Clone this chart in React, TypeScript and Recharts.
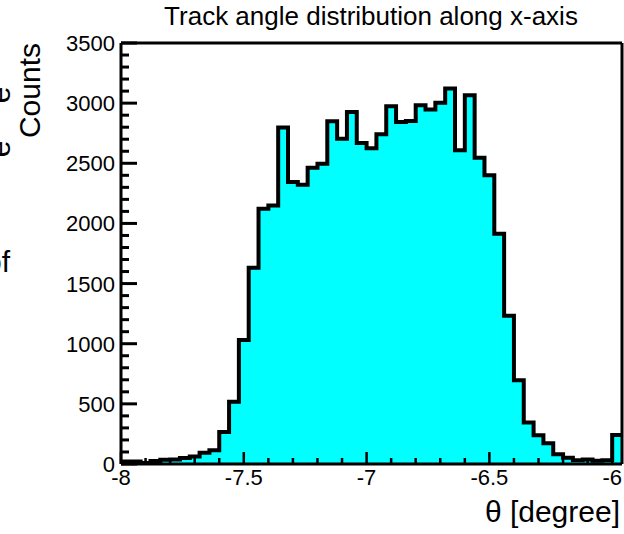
import { AreaChart, Area, XAxis, YAxis } from "recharts";

// histogram binning (degrees)
const binStart = -8;
const binWidth = 0.04;
const counts = [
  20, 20, 8, 25, 35, 38, 50, 62, 94, 114,
  265, 517, 1030, 1631, 2122, 2150, 2797, 2344, 2322, 2463,
  2497, 2850, 2705, 2927, 2669, 2626, 2741, 2975, 2844, 2852,
  2983, 2947, 3003, 3122, 2608, 3066, 2547, 2400, 1914, 1233,
  697, 344, 239, 172, 81, 53, 31, 37, 28, 31,
  242,
];

const xMajorTicks = [-8, -7.5, -7, -6.5, -6];
const yMajorTicks = [0, 500, 1000, 1500, 2000, 2500, 3000, 3500];

const title = "Track angle distribution along x-axis";
const xTitle = "θ [degree]";
const yTitle = "Counts";

// bin edges -> step points (last edge repeats the last count)
const histData = counts.map((c, i) => ({ x: binStart + i * binWidth, count: c }));
histData.push({ x: binStart + counts.length * binWidth, count: counts[counts.length - 1] });
const xMax = binStart + counts.length * binWidth;

const xTicks: number[] = [];
for (let i = 0; i <= 20; i++) xTicks.push(Math.round((-8 + i * 0.1) * 10) / 10);
const yTicks: number[] = [];
for (let i = 0; i <= 35; i++) yTicks.push(i * 100);

const FONT = "'Liberation Sans', Arial, sans-serif";

const isMajor = (list: number[], v: number) => list.some((m) => Math.abs(m - v) < 1e-6);

const XTick = (props: any) => {
  const { x, y, payload } = props;
  const major = isMajor(xMajorTicks, payload.value);
  return (
    <g>
      <line x1={x} x2={x} y1={y} y2={y - (major ? 12 : 6)} stroke="#000" strokeWidth={2.5} />
      {major && (
        <text x={x} y={y + 21} textAnchor="middle" fontSize={22} fontFamily={FONT} fill="#000">
          {payload.value}
        </text>
      )}
    </g>
  );
};

const YTick = (props: any) => {
  const { x, y, payload } = props;
  const major = isMajor(yMajorTicks, payload.value);
  return (
    <g>
      <line x1={x} x2={x + (major ? 16 : 8)} y1={y} y2={y} stroke="#000" strokeWidth={3} />
      {major && (
        <text x={x - 6} y={y + 8} textAnchor="end" fontSize={22} fontFamily={FONT} fill="#000">
          {payload.value}
        </text>
      )}
    </g>
  );
};

export default function App() {
  return (
    <div
      style={{
        position: "absolute",
        left: 0,
        top: 0,
        width: 624,
        height: 534,
        overflow: "hidden",
        background: "#fff",
      }}
    >
      <AreaChart
        width={624}
        height={534}
        data={histData}
        margin={{ top: 42, right: 1, left: 120, bottom: 69 }}
      >
        <XAxis
          dataKey="x"
          type="number"
          domain={[binStart, xMax]}
          ticks={xTicks}
          interval={0}
          height={1}
          tickSize={0}
          tickMargin={0}
          tickLine={false}
          tick={<XTick />}
          axisLine={{ stroke: "#000", strokeWidth: 3 }}
          allowDataOverflow
        />
        <XAxis
          xAxisId="top"
          orientation="top"
          type="number"
          domain={[binStart, xMax]}
          height={1}
          tick={false}
          tickLine={false}
          axisLine={{ stroke: "#000", strokeWidth: 3 }}
        />
        <YAxis
          type="number"
          domain={[0, 3500]}
          ticks={yTicks}
          interval={0}
          width={1}
          tickSize={0}
          tickMargin={0}
          tickLine={false}
          tick={<YTick />}
          axisLine={{ stroke: "#000", strokeWidth: 3 }}
          allowDataOverflow
        />
        <YAxis
          yAxisId="right"
          orientation="right"
          type="number"
          domain={[0, 3500]}
          width={1}
          tick={false}
          tickLine={false}
          axisLine={{ stroke: "#000", strokeWidth: 3 }}
        />
        <Area
          isAnimationActive={false}
          type="stepAfter"
          dataKey="count"
          stroke="#000"
          strokeWidth={4}
          strokeLinejoin="miter"
          fill="#00ffff"
          fillOpacity={1}
          dot={false}
          activeDot={false}
        />
      </AreaChart>
      <svg
        width={624}
        height={534}
        style={{ position: "absolute", left: 0, top: 0, pointerEvents: "none" }}
      >
        <text x={371} y={25} textAnchor="middle" fontSize={26} fontFamily={FONT} fill="#000">
          {title}
        </text>
        <text
          transform="translate(40,43) rotate(-90)"
          textAnchor="end"
          fontSize={30}
          fontFamily={FONT}
          fill="#000"
        >
          {yTitle}
        </text>
        <text x={620} y={522} textAnchor="end" fontSize={30} fontFamily={FONT} fill="#000">
          {xTitle}
        </text>
        {/* clipped glyphs from the neighbouring pad */}
        <text transform="translate(10,95) rotate(-90)" textAnchor="middle" fontSize={30} fontFamily={FONT} fill="#000">
          e
        </text>
        <text transform="translate(10,149) rotate(-90)" textAnchor="middle" fontSize={30} fontFamily={FONT} fill="#000">
          e
        </text>
        <text x={10} y={272} textAnchor="end" fontSize={30} fontFamily={FONT} fill="#000">
          of
        </text>
      </svg>
    </div>
  );
}
